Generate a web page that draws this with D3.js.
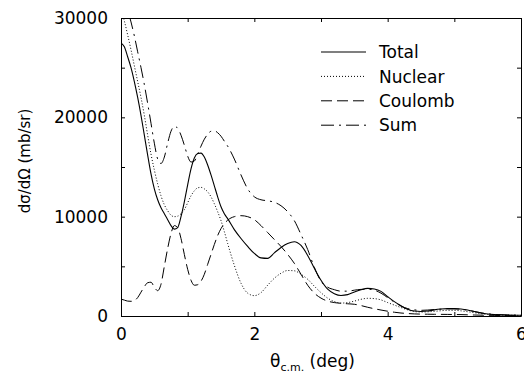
<!DOCTYPE html>
<html>
<head>
<meta charset="utf-8">
<script src="https://cdn.jsdelivr.net/npm/d3@7"></script>
<style>
  html, body { margin: 0; padding: 0; background: #fff; overflow: hidden; }
  svg { display: block; }
  text { font-family: "DejaVu Sans", sans-serif; fill: #000; }
</style>
</head>
<body>
<svg id="chart" width="524" height="375"></svg>
<script>
// scattering angle (deg), shared by every series
const angle = [0, 0.05, 0.1, 0.15, 0.2, 0.25, 0.3, 0.35, 0.4, 0.45, 0.5, 0.55, 0.6, 0.65, 0.7, 0.75,
  0.8, 0.85, 0.9, 0.95, 1.0, 1.05, 1.1, 1.15, 1.2, 1.25, 1.3, 1.35, 1.4, 1.45, 1.5, 1.55, 1.6,
  1.7, 1.8, 1.9, 2.0, 2.1, 2.2, 2.3, 2.4, 2.5, 2.6, 2.7, 2.8, 2.9, 3.0, 3.1, 3.2, 3.3, 3.4, 3.5,
  3.6, 3.7, 3.8, 3.9, 4.0, 4.1, 4.2, 4.3, 4.4, 4.5, 4.6, 4.7, 4.8, 4.9, 5.0, 5.1, 5.2, 5.3, 5.4,
  5.5, 5.6, 5.8, 6.0];

// dsigma/dOmega (mb/sr)
const total = [27500, 27100, 26100, 25000, 23600, 22000, 20200, 18200, 16200, 14300, 12800, 11700, 10900, 10300, 9700, 9100,
  8750, 8900, 10000, 11500, 13200, 14800, 15900, 16350, 16400, 16000, 15200, 14200, 13100, 12000, 11000, 10300, 9800,
  8700, 7800, 7000, 6300, 5850, 5800, 6350, 6900, 7300, 7480, 7100, 6100, 4800, 3600, 2700, 2250, 2070, 2150, 2420,
  2650, 2780, 2720, 2480, 1950, 1450, 1030, 680, 500, 460, 500, 620, 700, 740, 740, 700, 600, 450, 300,
  200, 140, 90, 70];

const nuclear = [30800, 29700, 28300, 26800, 25200, 23600, 22000, 20200, 18200, 16300, 14700, 13300, 12100, 11200, 10600, 10150,
  10000, 10050, 10300, 10700, 11400, 12100, 12600, 12900, 12950, 12800, 12500, 12000, 11300, 10500, 9600, 8500, 7300,
  5100, 3300, 2300, 2050, 2350, 3100, 3800, 4300, 4580, 4550, 4200, 3700, 3000, 2350, 1800, 1450, 1300, 1350, 1500,
  1680, 1780, 1750, 1620, 1350, 1100, 850, 620, 450, 400, 420, 470, 530, 570, 570, 520, 430, 330, 230,
  160, 120, 80, 60];

const coulomb = [1700, 1600, 1500, 1480, 1550, 1850, 2400, 2950, 3350, 3400, 2900, 2550, 3200, 5000, 6800, 8300,
  9100, 8900, 7800, 6200, 4700, 3600, 3100, 3150, 3500, 4200, 5200, 6200, 7200, 8100, 8800, 9300, 9650,
  10000, 10100, 10000, 9700, 9100, 8400, 7700, 7000, 6200, 5300, 4200, 3100, 2300, 1800, 1500, 1350, 1280, 1230, 1180,
  1050, 880, 730, 600, 480, 380, 300, 250, 210, 190, 180, 170, 165, 160, 150, 140, 120, 100, 85,
  70, 60, 40, 30];

const sum = [32500, 31800, 30800, 29600, 28200, 26600, 25000, 23300, 21400, 19400, 17400, 15800, 15350, 16000, 17400, 18600,
  19100, 18900, 18200, 17200, 16100, 15500, 15600, 16300, 17100, 17800, 18300, 18600, 18650, 18450, 18100, 17600, 17100,
  15800, 14200, 12800, 12000, 11700, 11600, 11450, 11100, 10500, 9600, 8200, 6700, 4900, 3500, 2900, 2650, 2500, 2500, 2600,
  2680, 2700, 2600, 2300, 1850, 1400, 1000, 750, 620, 570, 600, 650, 690, 720, 720, 680, 580, 450, 320,
  220, 160, 100, 80];

const seriesNames = ['Total', 'Nuclear', 'Coulomb', 'Sum'];
const xTicks = [0, 1, 2, 3, 4, 5, 6];
const xTickLabels = ['0', '', '2', '', '4', '', '6'];
const yTicks = [0, 5000, 10000, 15000, 20000, 25000, 30000];
const yTickLabels = ['0', '', '10000', '', '20000', '', '30000'];

var svg = d3.select('#chart');
const width = +svg.attr('width');
const height = +svg.attr('height');
const margin = {top: 18, right: 3, bottom: 59, left: 121};
const innerWidth = width - margin.left - margin.right;
const innerHeight = height - margin.top - margin.bottom;

var g = svg.append('g')
    .attr('transform', `translate(${margin.left}, ${margin.top})`);

var x = d3.scaleLinear().domain([0, 6]).range([0, innerWidth]);
var y = d3.scaleLinear().domain([0, 30000]).range([innerHeight, 0]);

const styles = {
  Total:   {dash: null,          width: 1.1},
  Nuclear: {dash: '1,2',         width: 1},
  Coulomb: {dash: '11,5',        width: 1},
  Sum:     {dash: '13,5,2,5',    width: 1}
};
const values = {Total: total, Nuclear: nuclear, Coulomb: coulomb, Sum: sum};

// axes: ticks point inward on all four sides
g.append('g')
    .attr('transform', `translate(0, ${innerHeight})`)
    .call(d3.axisBottom(x).tickValues(xTicks).tickSizeInner(-4).tickSizeOuter(0).tickPadding(12)
      .tickFormat((d, i) => xTickLabels[i]));
g.append('g')
    .call(d3.axisLeft(y).tickValues(yTicks).tickSizeInner(-4).tickSizeOuter(0).tickPadding(13)
      .tickFormat((d, i) => yTickLabels[i]));
g.append('g')
    .call(d3.axisTop(x).tickValues(xTicks).tickSizeInner(-4).tickSizeOuter(0).tickFormat(''));
g.append('g')
    .attr('transform', `translate(${innerWidth}, 0)`)
    .call(d3.axisRight(y).tickValues(yTicks).tickSizeInner(-4).tickSizeOuter(0).tickFormat(''));

g.selectAll('.domain, .tick line').attr('stroke', '#000').attr('stroke-width', 1);
// minor ticks carry no label
g.selectAll('.tick text').filter(function() { return this.textContent === ''; }).remove();
g.selectAll('.tick text')
    .style('font-family', '"DejaVu Sans", sans-serif')
    .style('font-size', '17px')
    .attr('fill', '#000');

// clip the curves to the frame
svg.append('defs').append('clipPath').attr('id', 'plotclip')
  .append('rect').attr('width', innerWidth).attr('height', innerHeight);

var line = d3.line()
    .x(d => x(d[0]))
    .y(d => y(d[1]))
    .curve(d3.curveMonotoneX);

g.append('g')
    .attr('clip-path', 'url(#plotclip)')
  .selectAll('path')
  .data(seriesNames)
  .enter().append('path')
    .attr('d', name => line(angle.map((a, i) => [a, values[name][i]])))
    .attr('fill', 'none')
    .attr('stroke', '#000')
    .attr('stroke-width', name => styles[name].width)
    .attr('stroke-dasharray', name => styles[name].dash);

// legend
var legend = svg.selectAll('.legend').data(seriesNames)
  .enter().append('g')
    .attr('class', 'legend')
    .attr('transform', (d, i) => `translate(321, ${52 + i * 24.4})`);
legend.append('line')
    .attr('x1', 0).attr('x2', 45)
    .attr('stroke', '#000')
    .attr('stroke-width', d => styles[d].width)
    .attr('stroke-dasharray', d => styles[d].dash);
legend.append('text')
    .attr('x', 58)
    .attr('dy', '0.36em')
    .style('font-size', '17px')
    .text(d => d);

// axis titles
var xt = svg.append('text')
    .attr('x', 270)
    .attr('y', 367)
    .style('font-size', '17px');
xt.append('tspan').text('θ');
xt.append('tspan').attr('dy', 4).style('font-size', '11px').text('c.m.');
xt.append('tspan').attr('dy', -4).text(' (deg)');

svg.append('text')
    .attr('transform', 'translate(25, 161) rotate(-90)')
    .attr('text-anchor', 'middle')
    .attr('dominant-baseline', 'central')
    .style('font-size', '15px')
    .text('dσ/dΩ (mb/sr)');
</script>
</body>
</html>
